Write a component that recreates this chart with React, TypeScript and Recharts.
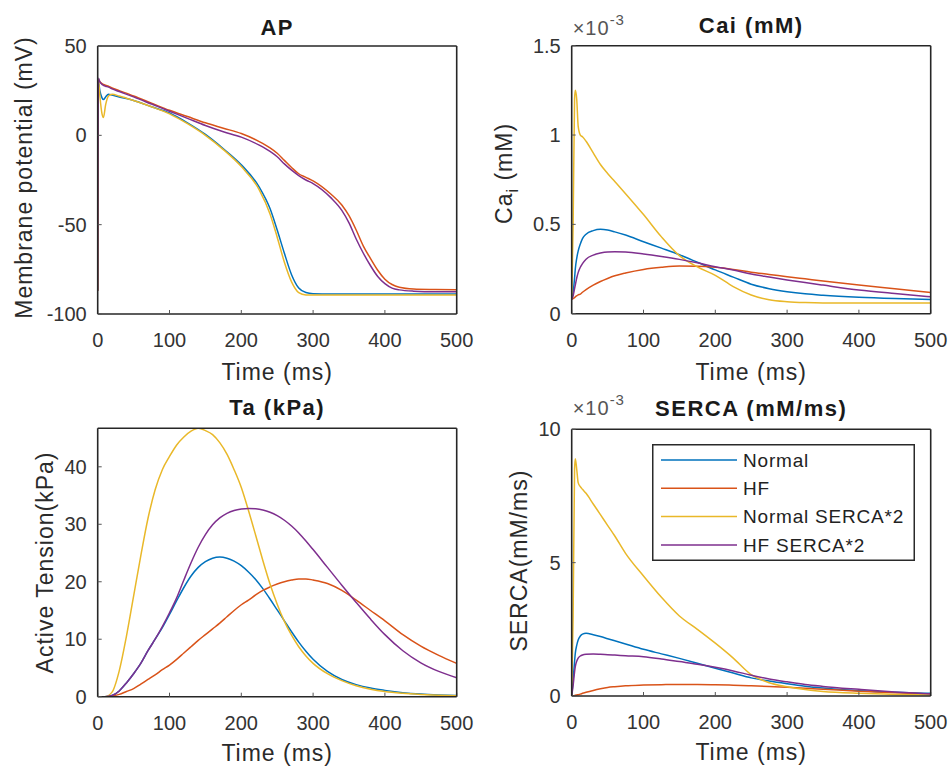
import React from 'react';
import { LineChart, Line, XAxis, YAxis, Legend } from 'recharts';

// AP traces (mV)
const tAP = [0, 1, 3, 6, 8, 11, 15, 20, 30, 50, 75, 100, 125, 150, 175, 200, 225, 240, 250, 260, 270, 280, 290, 300, 325, 340, 350, 360, 370, 380, 390, 400, 410, 420, 440, 470, 500];
const apNormal = [-87, 30, 25, 21, 20, 21.5, 23, 22.5, 21.5, 19.5, 16, 12.5, 7, 0.5, -7.5, -16.5, -29, -41, -53, -66, -78, -85.5, -88, -88.6, -88.8, -88.8, -88.8, -88.8, -88.8, -88.8, -88.8, -88.8, -88.8, -88.8, -88.8, -88.8, -88.8];
const apHF = [-87, 31, 30, 29, 28.5, 28, 27.5, 26.5, 25, 22, 18, 14, 10.5, 7, 4, 1, -3.5, -7, -10, -14, -18, -21.5, -23.5, -25.5, -33, -39, -45, -53, -62, -69, -75.5, -80.5, -83.5, -85, -86, -86.3, -86.5];
const apNormal2 = [-87, 31, 22, 12, 10, 17, 22, 23, 22, 19.5, 16, 12, 6.5, 0, -8, -17.5, -30.5, -44, -57, -71, -82, -88, -89.3, -89.4, -89.4, -89.4, -89.4, -89.4, -89.4, -89.4, -89.4, -89.4, -89.4, -89.4, -89.4, -89.4, -89.4];
const apHF2 = [-87, 32, 30, 28.5, 28, 27.5, 27, 26, 24.5, 21.5, 17.5, 13.5, 9.5, 5.5, 2, -1, -5.5, -9, -12, -16, -19.5, -22.5, -25, -27, -35, -42, -49, -58, -66, -73, -79, -83, -85.5, -86.5, -87.2, -87.5, -87.5];

// time points shared by Cai and SERCA
const tFast = [0, 2, 4, 5, 7, 9, 12, 15, 20, 30, 40, 50, 60, 75, 100, 125, 150, 175, 200, 225, 250, 275, 300, 325, 350, 400, 450, 500];

// Cai, x1e-3 mM
const caNormal = [0.08, 0.12, 0.2, 0.25, 0.31, 0.35, 0.39, 0.42, 0.445, 0.465, 0.472, 0.468, 0.458, 0.44, 0.403, 0.367, 0.33, 0.288, 0.245, 0.205, 0.165, 0.14, 0.123, 0.111, 0.103, 0.092, 0.085, 0.08];
const caHF = [0.08, 0.085, 0.09, 0.094, 0.1, 0.105, 0.11, 0.12, 0.135, 0.16, 0.18, 0.197, 0.212, 0.228, 0.248, 0.26, 0.267, 0.266, 0.26, 0.248, 0.232, 0.22, 0.207, 0.195, 0.183, 0.16, 0.139, 0.118];
const caNormal2 = [0.08, 0.5, 1.2, 1.25, 1.2, 1.05, 1.0, 0.99, 0.965, 0.9, 0.835, 0.785, 0.74, 0.672, 0.555, 0.43, 0.325, 0.262, 0.215, 0.152, 0.105, 0.078, 0.067, 0.062, 0.06, 0.06, 0.06, 0.06];
const caHF2 = [0.08, 0.1, 0.14, 0.16, 0.2, 0.23, 0.26, 0.28, 0.305, 0.328, 0.34, 0.346, 0.347, 0.345, 0.334, 0.32, 0.304, 0.285, 0.263, 0.245, 0.222, 0.205, 0.189, 0.174, 0.16, 0.133, 0.113, 0.095];

// SERCA flux, x1e-3 mM/ms
const seNormal = [0, 0.6, 1.3, 1.6, 1.9, 2.1, 2.25, 2.32, 2.35, 2.3, 2.23, 2.15, 2.07, 1.95, 1.75, 1.58, 1.41, 1.23, 1.04, 0.86, 0.68, 0.56, 0.46, 0.37, 0.3, 0.2, 0.14, 0.1];
const seHF = [0, 0.01, 0.02, 0.03, 0.04, 0.05, 0.07, 0.1, 0.14, 0.21, 0.27, 0.32, 0.35, 0.385, 0.41, 0.425, 0.43, 0.43, 0.42, 0.405, 0.385, 0.36, 0.325, 0.29, 0.255, 0.18, 0.12, 0.075];
const seNormal2 = [0, 3, 8.5, 8.9, 8.5, 8.0, 7.85, 7.75, 7.6, 7.2, 6.8, 6.4, 6.0, 5.35, 4.5, 3.7, 3.0, 2.5, 1.98, 1.42, 0.8, 0.5, 0.35, 0.24, 0.17, 0.1, 0.06, 0.04];
const seHF2 = [0, 0.4, 0.9, 1.1, 1.3, 1.42, 1.5, 1.54, 1.565, 1.575, 1.565, 1.55, 1.535, 1.51, 1.475, 1.39, 1.29, 1.19, 1.075, 0.94, 0.78, 0.64, 0.53, 0.43, 0.36, 0.25, 0.15, 0.075];

// active tension (kPa)
const tTa = [0, 10, 20, 30, 40, 50, 60, 70, 80, 90, 100, 110, 120, 130, 140, 150, 160, 170, 180, 190, 200, 210, 220, 230, 240, 250, 260, 270, 280, 290, 300, 320, 340, 360, 380, 400, 425, 450, 475, 500];
const taNormal = [0, 0, 0.2, 1, 2.4, 4, 5.8, 8, 10, 12, 14.3, 16.7, 19, 21, 22.5, 23.5, 24.1, 24.3, 24.1, 23.6, 22.8, 21.7, 20.4, 18.8, 17.0, 15.1, 13.2, 11.3, 9.5, 7.9, 6.5, 4.4, 3.0, 2.1, 1.5, 1.1, 0.7, 0.45, 0.3, 0.2];
const taHF = [0, 0, 0.1, 0.4, 0.9, 1.4, 2.2, 3, 3.8, 4.7, 5.5, 6.5, 7.6, 8.7, 9.8, 10.8, 11.8, 12.8, 13.9, 15, 16, 16.8, 17.7, 18.5, 19.1, 19.6, 20, 20.3, 20.5, 20.5, 20.3, 19.7, 18.5, 16.8, 15, 13.2, 10.8, 8.8, 7.2, 5.8];
const taNormal2 = [0, 0, 0.8, 4.5, 10.5, 17.5, 24.5, 31, 36, 39.5, 41.8, 43.8, 45.2, 46.2, 46.7, 46.3, 45.6, 44.2, 42.2, 39.5, 36.4, 32.4, 28.1, 23.7, 19.6, 16.1, 13.1, 10.7, 8.7, 7.1, 5.8, 4, 2.8, 1.9, 1.3, 0.9, 0.6, 0.4, 0.25, 0.15];
const taHF2 = [0, 0, 0.2, 1, 2.4, 4, 5.8, 8, 10, 12.2, 14.6, 17.2, 20.3, 23.3, 26, 28.2, 29.9, 31.1, 31.9, 32.4, 32.65, 32.75, 32.7, 32.5, 32.1, 31.5, 30.7, 29.7, 28.5, 27.1, 25.6, 22.5, 19.4, 16.4, 13.5, 10.8, 8.0, 5.9, 4.4, 3.3];

const xTicks = [0, 100, 200, 300, 400, 500];
const apTicks = [-100, -50, 0, 50];
const caTicks = [0, 0.5, 1, 1.5];
const taTicks = [0, 10, 20, 30, 40];
const seTicks = [0, 5, 10];

const series = [
  { key: 'normal', name: 'Normal', color: '#0072BD' },
  { key: 'hf', name: 'HF', color: '#D95319' },
  { key: 'normal2', name: 'Normal SERCA*2', color: '#E9B829' },
  { key: 'hf2', name: 'HF SERCA*2', color: '#7E2F8E' },
];

const rows = (t: number[], a: number[], b: number[], c: number[], d: number[]) =>
  t.map((x, i) => ({ t: x, normal: a[i], hf: b[i], normal2: c[i], hf2: d[i] }));

const tickColor = '#333';
const boxColor = '#262626';

// axes are 1px thick so recharts draws them; labels are placed from the plot edge
const titleLabel = (title: string, gap: number, exp: boolean, expGap: number) => (props: any) => {
  const vb = props.viewBox || props;
  const top = vb.y + vb.height;
  return (
    <g>
      <text x={vb.x + vb.width / 2} y={top - gap} textAnchor="middle" fontWeight="bold" fontSize={22} letterSpacing={1.5} fill="#1a1a1a">
        {title}
      </text>
      {exp && (
        <text x={vb.x + 1} y={top - expGap} fontSize={20} letterSpacing={1} fill="#555">
          ×10<tspan dy={-10} fontSize={15}>-3</tspan>
        </text>
      )}
    </g>
  );
};

const xLabel = (gap: number) => (props: any) => {
  const vb = props.viewBox || props;
  return (
    <text x={vb.x + vb.width / 2} y={vb.y + gap} textAnchor="middle" fontSize={23} letterSpacing={1} fill="#2a2a2a">
      Time (ms)
    </text>
  );
};

const yLabel = (content: React.ReactNode, dx: number, dy: number) => (props: any) => {
  const vb = props.viewBox || props;
  const cx = vb.x + vb.width - dx;
  const cy = vb.y + vb.height / 2 + dy;
  return (
    <text x={cx} y={cy} transform={`rotate(-90 ${cx} ${cy})`} textAnchor="middle" fontSize={23} letterSpacing={1} fill="#2a2a2a">
      {content}
    </text>
  );
};

const LegendBox = () => (
  <svg width={263} height={117} style={{ display: 'block' }}>
    <rect x={0.75} y={0.75} width={261.5} height={115.5} fill="#fff" stroke="#2a2a2a" strokeWidth={1.5} />
    {series.map((s, i) => {
      const cy = 16 + i * 28.3;
      return (
        <g key={s.key}>
          <line x1={9} x2={85} y1={cy} y2={cy} stroke={s.color} strokeWidth={1.5} />
          <text x={91} y={cy + 6.8} fontSize={19} letterSpacing={0.8} fill="#222">{s.name}</text>
        </g>
      );
    })}
  </svg>
);

type PanelProps = {
  left: number;
  top: number;
  plot: { top: number; right: number; bottom: number; left: number };
  data: any[];
  yDomain: [number, number];
  yTicks: number[];
  title: string;
  titleGap: number;
  exp?: boolean;
  expGap?: number;
  yText: React.ReactNode;
  yDx: number;
  yDy: number;
  xGap: number;
  legend?: boolean;
};

function Panel(p: PanelProps) {
  // plot = distance from each chart edge to the plot box; axes take 1px each
  const margin = { top: p.plot.top - 1, right: p.plot.right - 1, bottom: p.plot.bottom - 1, left: p.plot.left - 1 };
  return (
    <div style={{ position: 'absolute', left: p.left, top: p.top }}>
      <LineChart width={476} height={385} data={p.data} margin={margin}>
        <XAxis
          xAxisId="b"
          type="number"
          dataKey="t"
          domain={[0, 500]}
          ticks={xTicks}
          interval={0}
          height={1}
          allowDataOverflow
          tickSize={-4}
          tickMargin={23}
          tick={{ fill: tickColor, fontSize: 20 }}
          tickLine={{ stroke: '#555' }}
          axisLine={{ stroke: boxColor, strokeWidth: 1.6 }}
          label={xLabel(p.xGap)}
        />
        <XAxis
          xAxisId="t"
          orientation="top"
          type="number"
          dataKey="t"
          domain={[0, 500]}
          ticks={xTicks}
          interval={0}
          height={1}
          allowDataOverflow
          tickSize={-4}
          tick={false}
          tickLine={{ stroke: '#555' }}
          axisLine={{ stroke: boxColor, strokeWidth: 1.6 }}
          label={titleLabel(p.title, p.titleGap, !!p.exp, p.expGap || 0)}
        />
        <YAxis
          yAxisId="l"
          type="number"
          domain={p.yDomain}
          ticks={p.yTicks}
          interval={0}
          width={1}
          allowDataOverflow
          tickSize={-4}
          tickMargin={15}
          tick={{ fill: tickColor, fontSize: 20 }}
          tickLine={{ stroke: '#555' }}
          axisLine={{ stroke: boxColor, strokeWidth: 1.6 }}
          label={yLabel(p.yText, p.yDx, p.yDy)}
        />
        <YAxis
          yAxisId="r"
          orientation="right"
          type="number"
          domain={p.yDomain}
          ticks={p.yTicks}
          interval={0}
          width={1}
          allowDataOverflow
          tickSize={-4}
          tick={false}
          tickLine={{ stroke: '#555' }}
          axisLine={{ stroke: boxColor, strokeWidth: 1.6 }}
        />
        {series.map((s) => (
          <Line
            key={s.key}
            xAxisId="b"
            yAxisId="l"
            type="monotone"
            dataKey={s.key}
            name={s.name}
            stroke={s.color}
            strokeWidth={1.5}
            dot={false}
            activeDot={false}
            isAnimationActive={false}
          />
        ))}
        {p.legend && (
          <Legend
            layout="horizontal"
            verticalAlign="middle"
            align="center"
            wrapperStyle={{ left: 176, top: 59, width: 263, height: 117 }}
            content={LegendBox}
          />
        )}
      </LineChart>
    </div>
  );
}

export default function App() {
  return (
    <div
      style={{
        position: 'absolute',
        left: 0,
        top: 0,
        width: 952,
        height: 770,
        background: '#fff',
        fontFamily: '"Liberation Sans", Arial, Helvetica, sans-serif',
      }}
    >
      <Panel
        left={0}
        top={0}
        plot={{ top: 46, right: 19.3, bottom: 71, left: 97.7 }}
        data={rows(tAP, apNormal, apHF, apNormal2, apHF2)}
        yDomain={[-100, 50]}
        yTicks={apTicks}
        title="AP"
        titleGap={11}
        yText="Membrane potential (mV)"
        yDx={65.7}
        yDy={-2.5}
        xGap={66}
      />
      <Panel
        left={476}
        top={0}
        plot={{ top: 45.7, right: 21.3, bottom: 71.3, left: 95.7 }}
        data={rows(tFast, caNormal, caHF, caNormal2, caHF2)}
        yDomain={[0, 1.5]}
        yTicks={caTicks}
        title="Cai (mM)"
        titleGap={12.4}
        exp
        expGap={10.7}
        yText={
          <>
            Ca<tspan dy={6} fontSize={16}>i</tspan>
            <tspan dy={-6}> (mM)</tspan>
          </>
        }
        yDx={60}
        yDy={-6.3}
        xGap={66.3}
      />
      <Panel
        left={0}
        top={385}
        plot={{ top: 43.3, right: 19.3, bottom: 73.3, left: 97.7 }}
        data={rows(tTa, taNormal, taHF, taNormal2, taHF2)}
        yDomain={[0, 46.7]}
        yTicks={taTicks}
        title="Ta (kPa)"
        titleGap={13.3}
        yText="Active Tension(kPa)"
        yDx={44.4}
        yDy={0}
        xGap={64}
      />
      <Panel
        left={476}
        top={385}
        plot={{ top: 44.3, right: 21.3, bottom: 74, left: 95.7 }}
        data={rows(tFast, seNormal, seHF, seNormal2, seHF2)}
        yDomain={[0, 10]}
        yTicks={seTicks}
        title="SERCA (mM/ms)"
        titleGap={13.3}
        exp
        expGap={14.3}
        yText="SERCA(mM/ms)"
        yDx={45}
        yDy={-2}
        xGap={64}
        legend
      />
    </div>
  );
}
